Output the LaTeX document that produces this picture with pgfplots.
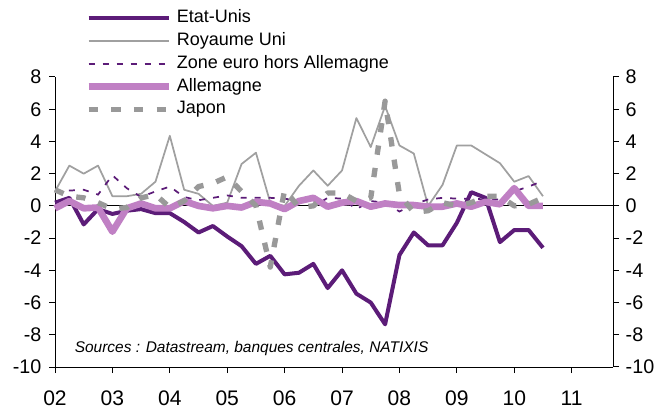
\documentclass[border=0pt]{standalone}
\usepackage{fontspec}
\setmainfont{Liberation Sans}
\usepackage{pgfplots}
\pgfplotsset{compat=1.18}
\usepackage{pgfplotstable}
\definecolor{usc}{RGB}{92,28,120}
\definecolor{dec}{RGB}{192,128,196}
\definecolor{ukc}{RGB}{160,160,160}
\definecolor{jpc}{RGB}{153,153,153}

\pgfplotstableread{
x     us     uk    ze     de     jp
2.00  0.20   0.90  0.85  -0.15   1.00
2.25  0.50   2.50  0.95   0.30   0.60
2.50 -1.15   2.00  1.00  -0.15   0.50
2.75 -0.20   2.50  0.70  -0.10   0.20
3.00 -0.50   0.60  1.90  -1.60  -0.20
3.25 -0.30   0.60  1.10  -0.15  -0.10
3.50 -0.20   0.75  0.55   0.15   0.50
3.75 -0.45   1.50  0.90  -0.15   0.70
4.00 -0.45   4.35  1.20  -0.15  -0.10
4.25 -1.00   1.00  0.55   0.30   0.30
4.50 -1.65   0.75  0.35   0.00   1.20
4.75 -1.25   0.00  0.50  -0.15   1.40
5.00 -1.90   0.20  0.65   0.00   1.80
5.25 -2.50   2.60  0.50  -0.10   0.90
5.50 -3.60   3.30  0.50   0.25   0.00
5.75 -3.10   0.20  0.50   0.15  -3.80
6.00 -4.25   0.00  0.45  -0.20   1.00
6.25 -4.15   1.25  0.30   0.30  -0.10
6.50 -3.60   2.20 -0.05   0.50   0.00
6.75 -5.10   1.25  0.50  -0.05   0.80
7.00 -4.00   2.20  0.45   0.20   0.80
7.25 -5.45   5.45 -0.20   0.30   0.30
7.50 -6.00   3.65  0.30  -0.05   0.50
7.75 -7.35   6.20  0.20   0.15   6.50
8.00 -3.05   3.75 -0.35   0.05   0.70
8.25 -1.65   3.25  0.10   0.05  -0.40
8.50 -2.45   0.00  0.40  -0.05  -0.30
8.75 -2.45   1.30  0.50  -0.05   0.20
9.00 -1.05   3.75  0.45   0.15   0.00
9.25  0.85   3.75  0.45  -0.05   0.20
9.50  0.50   3.20  0.40   0.25   0.60
9.75 -2.25   2.65  0.40   0.10   0.60
10.00 -1.50  1.50  0.90   1.10   0.00
10.25 -1.50  1.85  1.20   0.00   0.10
10.50 -2.60  0.60  1.55   0.00   0.50
}\data

\begin{document}
\begin{tikzpicture}
\pgfplotsset{
  common/.style={
    scale only axis, width=418.5pt, height=217.5pt,
    xmin=2, xmax=11.72, ymin=-10, ymax=8,
    ytick={-10,-8,-6,-4,-2,0,2,4,6,8},
    yticklabels={-10,-8,-6,-4,-2,0,2,4,6,8},
    tick align=outside, major tick length=4.5pt,
    axis line style={line width=0.75pt, black},
    tick style={line width=0.75pt, black},
    /pgf/number format/assume math mode=true,
    yticklabel style={font=\fontsize{14.8pt}{16pt}\selectfont},
  }
}
\begin{axis}[common, name=ax,
  axis x line*=bottom, axis y line*=left,
  xtick={2,3,4,5,6,7,8,9,10,11},
  xticklabels={02,03,04,05,06,07,08,09,10,11},
  xticklabel style={font=\fontsize{15.8pt}{17pt}\selectfont, yshift=-10pt},
  yticklabel style={xshift=-2.2pt},
  clip=false,
  legend style={at={(axis description cs:0.0537,1.2325)}, anchor=north west,
    draw=none, fill=none, font=\fontsize{13.5pt}{15pt}\selectfont,
    row sep=4.8pt, column sep=3.75pt, inner sep=0pt,
    nodes={inner sep=0pt, text height=9.7pt, text depth=2.6pt}},
  legend cell align=left,
  legend image code/.code={\draw[#1] (0pt,0pt) -- (60pt,0pt);},
]
\addplot[black, line width=0.75pt, forget plot] coordinates {(2,0) (11.72,0)};
\addplot[usc, line width=3pt, line join=round] table[x=x,y=us] {\data};
\addlegendentry{Etat-Unis}
\addplot[ukc, line width=1.3pt, line join=round] table[x=x,y=uk] {\data};
\addlegendentry{Royaume Uni}
\addplot[usc, line width=1.3pt, dash pattern=on 4.5pt off 6pt] table[x=x,y=ze] {\data};
\addlegendentry{Zone euro hors Allemagne}
\addplot[dec, line width=5pt, line join=round] table[x=x,y=de] {\data};
\addlegendentry{Allemagne}
\addplot[jpc, line width=4pt, line join=round, dash pattern=on 7pt off 10pt] table[x=x,y=jp] {\data};
\addlegendentry{Japon}
\node[anchor=west, font=\itshape\fontsize{11.6pt}{13pt}\selectfont] at (axis description cs:0.027,0.0638) {Sources : Datastream, banques centrales, NATIXIS};
\end{axis}
\begin{axis}[common, axis x line=none, axis y line*=right,
  yticklabel style={xshift=1.5pt}]
\end{axis}
\pgfresetboundingbox
\path[use as bounding box] ([shift={(-41.25pt,-32.25pt)}]ax.south west) rectangle ([shift={(456pt,275.25pt)}]ax.south west);
\end{tikzpicture}
\end{document}
